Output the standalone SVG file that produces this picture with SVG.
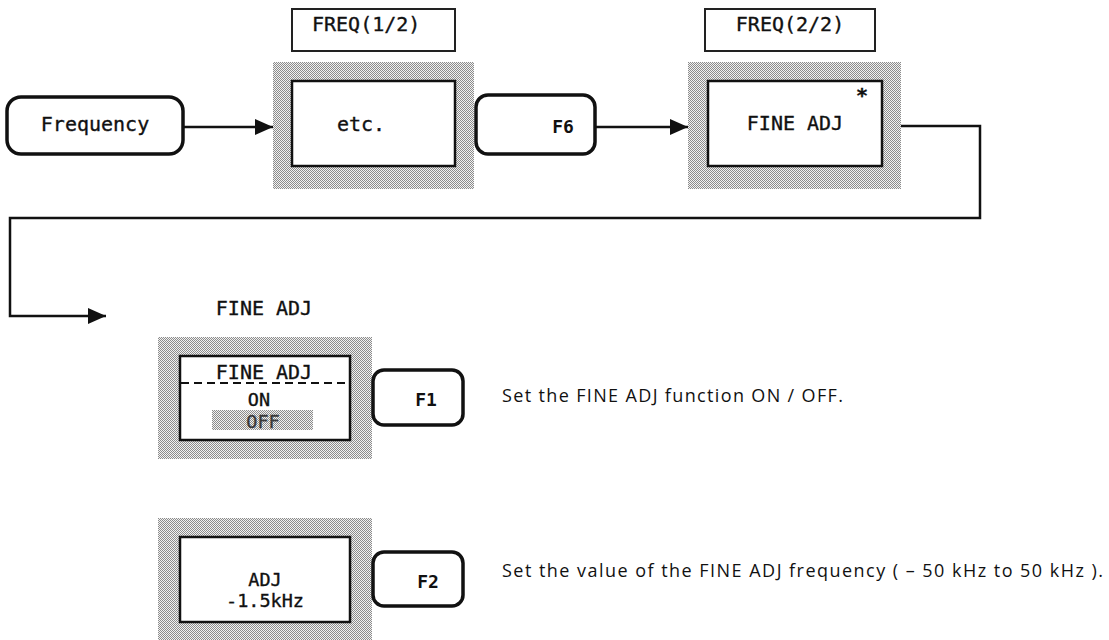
<svg xmlns="http://www.w3.org/2000/svg" width="1109" height="640" viewBox="0 0 1109 640">
<style>
.mono{font-family:"DejaVu Sans Mono","Liberation Mono",monospace;font-size:20px;fill:#111;stroke:#111;stroke-width:0.35}
.sm{font-size:18.5px}
.key{font-family:"DejaVu Sans Mono","Liberation Mono",monospace;font-size:18px;font-weight:bold;fill:#111}
.desc{font-family:"Open Sans","Noto Sans","Liberation Sans",sans-serif;font-size:18px;fill:#111}
.halftone{fill:url(#dots)}
.screen{fill:#fff;stroke:#111;stroke-width:2.5}
.label{fill:#fff;stroke:#222;stroke-width:2}
.btn{fill:#fff;stroke:#111;stroke-width:3.5}
.wire{fill:none;stroke:#111;stroke-width:2.5}
</style>
<defs>
<pattern id="dots" width="2" height="2" patternUnits="userSpaceOnUse">
<rect width="2" height="2" fill="#f2f2f2"/>
<rect x="0" y="0" width="1" height="1" fill="#8c8c8c"/>
<rect x="1" y="1" width="1" height="1" fill="#8c8c8c"/>
</pattern>
<marker id="arr" viewBox="0 0 18 16" refX="18" refY="8" markerWidth="18" markerHeight="16" markerUnits="userSpaceOnUse" orient="auto">
<path d="M0,0 L18,8 L0,16 Z" fill="#111"/>
</marker>
</defs>
<rect width="1109" height="640" fill="#fff"/>

<g id="connectors">
<line class="wire" x1="183" y1="127" x2="273" y2="127" marker-end="url(#arr)"/>
<line class="wire" x1="595" y1="127" x2="688" y2="127" marker-end="url(#arr)"/>
<polyline class="wire" points="901,126 980,126 980,218 10,218 10,316 106,316" marker-end="url(#arr)"/>
</g>

<g id="frequency-key">
<rect class="btn" x="7" y="97" width="176" height="57" rx="14"/>
<text class="mono" x="95" y="131" text-anchor="middle">Frequency</text>
</g>

<g id="freq1-label">
<rect class="label" x="292" y="9" width="163" height="42"/>
<text class="mono" x="312" y="31">FREQ(1/2)</text>
</g>

<g id="freq1-screen">
<rect class="halftone" x="273" y="62" width="201" height="127"/>
<rect class="screen" x="292" y="81" width="163" height="85"/>
<text class="mono" x="337" y="131">etc.</text>
</g>

<g id="f6-key">
<rect class="btn" x="476" y="95" width="119" height="59" rx="12"/>
<text class="key" x="563" y="133" text-anchor="middle">F6</text>
</g>

<g id="freq2-label">
<rect class="label" x="705" y="9" width="170" height="42"/>
<text class="mono" x="790" y="31" text-anchor="middle">FREQ(2/2)</text>
</g>

<g id="freq2-screen">
<rect class="halftone" x="688" y="62" width="213" height="127"/>
<rect class="screen" x="708" y="81" width="174" height="85"/>
<text class="mono" x="795" y="130" text-anchor="middle">FINE ADJ</text>
<text class="mono" x="862" y="102" text-anchor="middle" font-weight="bold">*</text>
</g>

<g id="fine-adj-title">
<text class="mono" x="264" y="315" text-anchor="middle">FINE ADJ</text>
</g>

<g id="fine-adj-screen">
<rect class="halftone" x="158" y="337" width="214" height="122"/>
<rect class="screen" x="180" y="356" width="170" height="84"/>
<text class="mono" x="264" y="379" text-anchor="middle">FINE ADJ</text>
<line x1="181" y1="383" x2="349" y2="383" stroke="#111" stroke-width="2" stroke-dasharray="8,5"/>
<text class="mono sm" x="259" y="406" text-anchor="middle">ON</text>
<rect class="halftone" x="212" y="410" width="101" height="20"/>
<text class="mono sm" x="263" y="428" text-anchor="middle" style="fill:#3a3a3a;stroke:#3a3a3a">OFF</text>
</g>

<g id="f1-key">
<rect class="btn" x="373" y="370" width="90" height="55" rx="11"/>
<text class="key" x="426" y="406" text-anchor="middle">F1</text>
</g>

<g id="f1-desc">
<text class="desc" x="502" y="402" textLength="341" lengthAdjust="spacing">Set the FINE ADJ function ON / OFF.</text>
</g>

<g id="adj-screen">
<rect class="halftone" x="158" y="518" width="214" height="123"/>
<rect class="screen" x="180" y="537" width="170" height="85"/>
<text class="mono sm" x="265" y="586" text-anchor="middle">ADJ</text>
<text class="mono sm" x="265" y="607" text-anchor="middle">-1.5kHz</text>
</g>

<g id="f2-key">
<rect class="btn" x="373" y="552" width="90" height="54" rx="11"/>
<text class="key" x="428" y="588" text-anchor="middle">F2</text>
</g>

<g id="f2-desc">
<text class="desc" x="502" y="577" textLength="601" lengthAdjust="spacing">Set the value of the FINE ADJ frequency ( – 50 kHz to 50 kHz ).</text>
</g>
</svg>
